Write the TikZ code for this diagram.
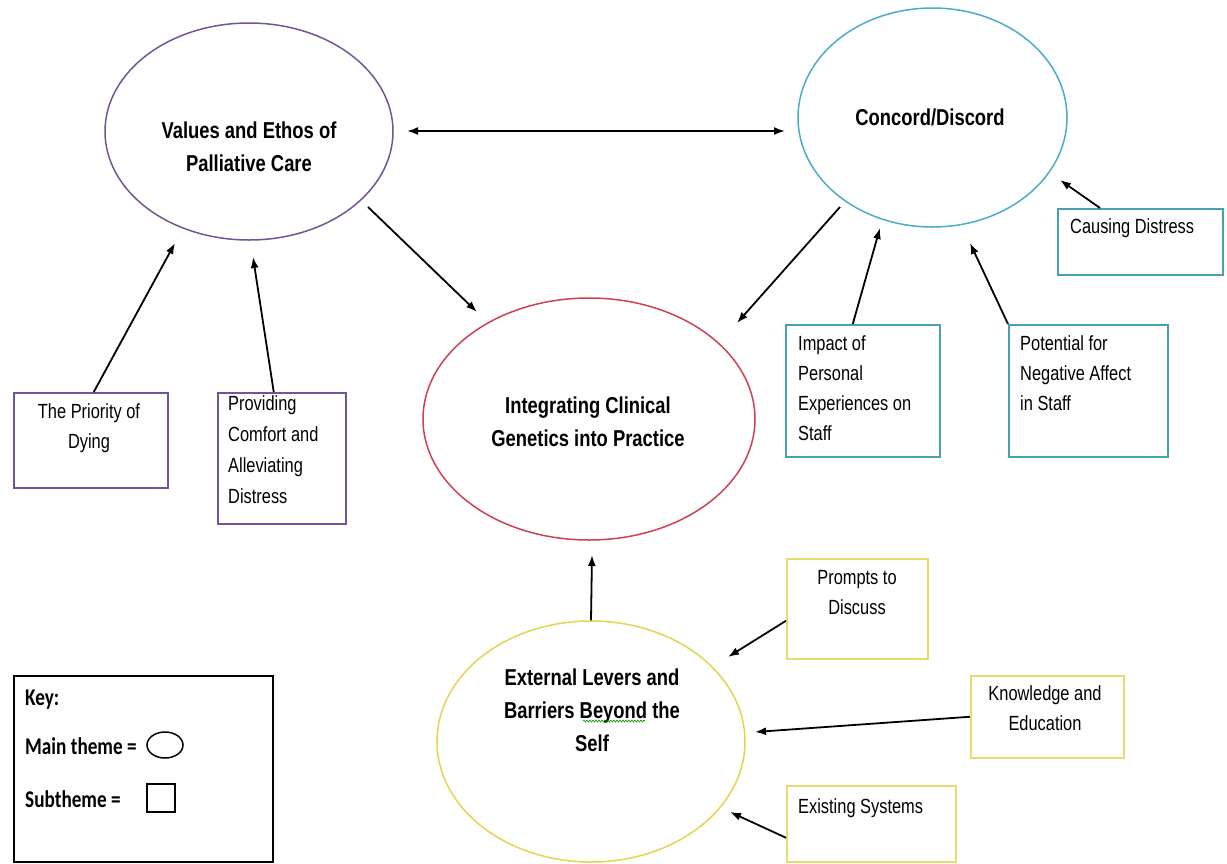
\documentclass[tikz,border=0pt]{standalone}
\usepackage{fontspec}
\usetikzlibrary{shapes.geometric,arrows.meta,calc,decorations.pathmorphing}
\newfontfamily\diagf[FakeStretch=0.8]{Liberation Sans}
\newfontfamily\keyf[FakeStretch=0.8]{Carlito}
\definecolor{vpurple}{RGB}{115,85,150}
\definecolor{ccyan}{RGB}{75,172,198}
\definecolor{bteal}{RGB}{70,160,178}
\definecolor{ired}{RGB}{205,65,80}
\definecolor{eyellow}{RGB}{228,212,80}
\definecolor{byellow}{RGB}{232,218,110}
\tikzset{
  mainell/.style={draw=#1, ellipse, line width=1.5pt, inner sep=0pt},
  subbox/.style={draw=#1, rectangle, line width=1.5pt, inner sep=0pt, anchor=north west},
  maintext/.style={inner sep=0pt, anchor=north, align=center, font=\diagf\bfseries\fontsize{23}{33}\selectfont},
  subtext/.style={inner sep=0pt, anchor=north, font=\diagf\fontsize{20.5}{30}\selectfont},
  keytext/.style={inner sep=0pt, anchor=north west, font=\keyf\bfseries\fontsize{24}{28}\selectfont},
  arr/.style={-{Latex[length=11pt,width=8pt]}, line width=1.8pt, black},
  darr/.style={{Latex[length=11pt,width=8pt]}-{Latex[length=11pt,width=8pt]}, line width=1.8pt, black}
}
\begin{document}
\begin{tikzpicture}[x=1pt,y=-1pt]
\useasboundingbox[fill=white] (0,0) rectangle (1227,863);

% main themes
\node[mainell=vpurple, minimum width=288pt, minimum height=217pt] (val) at (249,131.5) {};
\node[maintext] (valt) at (249,122) {Values and Ethos of\\Palliative Care};
\node[mainell=ccyan, minimum width=269pt, minimum height=219pt] (con) at (932.5,117.5) {};
\node[maintext] (cont) at (930,109) {Concord/Discord};
\node[mainell=ired, minimum width=332pt, minimum height=242pt] (integ) at (589,419) {};
\node[maintext] (integt) at (588,397) {Integrating Clinical\\Genetics into Practice};
\node[mainell=eyellow, minimum width=308pt, minimum height=241pt] (ext) at (591,741.5) {};
\node[maintext] (extt) at (592,669) {External Levers and\\Barriers Beyond the\\Self};
\coordinate (sq1) at (583,721);
\coordinate (sq2) at (645,721);
\draw[green!55!black, line width=0.6pt, decorate, decoration={snake, amplitude=1pt, segment length=3pt}] (sq1) -- (sq2);

% subthemes
\node[subbox=vpurple, minimum width=154pt, minimum height=95pt] (prio) at (13,392) {};
\node[subtext, align=center] (priot) at (89,403) {The Priority of\\Dying};
\node[subbox=vpurple, minimum width=128pt, minimum height=131pt] (prov) at (217,392) {};
\node[subtext, anchor=north west, align=left, font=\diagf\fontsize{20.5}{31}\selectfont] (provt) at (228,395) {Providing\\Comfort and\\Alleviating\\Distress};
\node[subbox=bteal, minimum width=154pt, minimum height=132pt] (imp) at (785,324) {};
\node[subtext, anchor=north west, align=left] (impt) at (798,335) {Impact of\\Personal\\Experiences on\\Staff};
\node[subbox=bteal, minimum width=159pt, minimum height=132pt] (pot) at (1008,324) {};
\node[subtext, anchor=north west, align=left] (pott) at (1020,335) {Potential for\\Negative Affect\\in Staff};
\node[subbox=bteal, minimum width=165pt, minimum height=66pt] (caus) at (1057,208) {};
\node[subtext, anchor=north west, align=left] (caust) at (1070,218) {Causing Distress};
\node[subbox=byellow, minimum width=141pt, minimum height=100pt] (prom) at (786,558) {};
\node[subtext, align=center] (promt) at (857,570) {Prompts to\\Discuss};
\node[subbox=byellow, minimum width=153pt, minimum height=82pt] (know) at (970,675) {};
\node[subtext, align=center] (knowt) at (1045,685) {Knowledge and\\Education};
\node[subbox=byellow, minimum width=169pt, minimum height=76pt] (exis) at (786,785) {};
\node[subtext, anchor=north west, align=left] (exist) at (798,798) {Existing Systems};

% key
\node[subbox=black, minimum width=259pt, minimum height=186pt] (keybox) at (13,675) {};
\node[keytext] (keyt) at (25,690) {Key:};
\node[keytext] (keym) at (25,737) {Main theme =};
\node[keytext] (keys) at (25,790) {Subtheme =};
\node[draw=black, ellipse, line width=1.5pt, minimum width=36pt, minimum height=26pt, inner sep=0pt] (keyell) at (165,745) {};
\node[draw=black, rectangle, line width=1.5pt, minimum width=28pt, minimum height=28pt, inner sep=0pt] (keysq) at (161,798) {};

% arrow end points
\coordinate (tprio) at (175,243);
\coordinate (tprov) at (253,257);
\coordinate (timp) at (880,228);
\coordinate (tpot) at (970,243);
\coordinate (tcaus) at (1060,180);
\coordinate (tprom) at (728,657);
\coordinate (tknow) at (755,732);
\coordinate (texis) at (730,812);
\coordinate (svi) at (368,207);
\coordinate (tvi) at (477,312);
\coordinate (sci) at (840,207);
\coordinate (tci) at (737,323);
\coordinate (tei) at (592,555);
\coordinate (dl) at (407,131);
\coordinate (dr) at (785,131);

% connectors
\draw[darr] (dl) -- (dr);
\draw[arr] (svi) -- (tvi);
\draw[arr] (sci) -- (tci);
\draw[arr] (ext.north) -- (tei);
\draw[arr] ($(prio.north)+(3,0)$) -- (tprio);
\draw[arr] ($(prov.north)+(-8,0)$) -- (tprov);
\draw[arr] ($(imp.north)+(-10,0)$) -- (timp);
\draw[arr] (pot.north west) -- (tpot);
\draw[arr] ($(caus.north west)+(43,0)$) -- (tcaus);
\draw[arr] ($(prom.west)+(0,12)$) -- (tprom);
\draw[arr] (know.west) -- (tknow);
\draw[arr] ($(exis.west)+(0,14)$) -- (texis);
\end{tikzpicture}
\end{document}
